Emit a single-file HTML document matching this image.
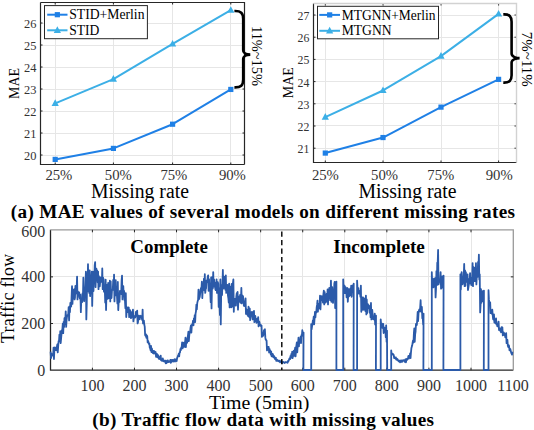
<!DOCTYPE html>
<html><head><meta charset="utf-8"><style>
html,body{margin:0;padding:0;background:#fff;}
body{width:534px;height:430px;overflow:hidden;}
svg{display:block;font-family:"Liberation Serif", serif;}
</style></head><body>
<svg width="534" height="430" viewBox="0 0 534 430" fill="#000">
<path d="M55.5,2.5V164.5M113.5,2.5V164.5M172.5,2.5V164.5M230.5,2.5V164.5M40.5,155.5H244.5M40.5,133.5H244.5M40.5,111.5H244.5M40.5,89.5H244.5M40.5,67.5H244.5M40.5,45.5H244.5M40.5,23.5H244.5" stroke="#e6e6e6" stroke-width="1" fill="none"/>
<path d="M55.2,164.5v-2M55.2,2.5v2M113.4,164.5v-2M113.4,2.5v2M172.6,164.5v-2M172.6,2.5v2M230.8,164.5v-2M230.8,2.5v2M40.5,155.00h2M244.5,155.00h-2M40.5,133.00h2M244.5,133.00h-2M40.5,111.00h2M244.5,111.00h-2M40.5,89.00h2M244.5,89.00h-2M40.5,67.00h2M244.5,67.00h-2M40.5,45.00h2M244.5,45.00h-2M40.5,23.00h2M244.5,23.00h-2" stroke="#262626" stroke-width="1" fill="none"/>
<path d="M40.5,2.5V164.5H244.5" stroke="#262626" stroke-width="1.2" fill="none"/>
<path d="M40.5,2.5H244.5V164.5" stroke="#262626" stroke-width="1.2" fill="none"/>
<polyline points="55.2,159.40 113.4,148.40 172.6,124.20 230.8,89.44" stroke="#1f80e6" stroke-width="2" fill="none" stroke-linejoin="round"/>
<rect x="52.60" y="156.80" width="5.2" height="5.2" fill="#1f80e6"/>
<rect x="110.80" y="145.80" width="5.2" height="5.2" fill="#1f80e6"/>
<rect x="170.00" y="121.60" width="5.2" height="5.2" fill="#1f80e6"/>
<rect x="228.20" y="86.84" width="5.2" height="5.2" fill="#1f80e6"/>
<polyline points="55.2,103.30 113.4,79.10 172.6,43.90 230.8,10.24" stroke="#3cafe6" stroke-width="2" fill="none" stroke-linejoin="round"/>
<path d="M55.20,99.30L58.80,105.90H51.60Z" fill="#3cafe6"/>
<path d="M113.40,75.10L117.00,81.70H109.80Z" fill="#3cafe6"/>
<path d="M172.60,39.90L176.20,46.50H169.00Z" fill="#3cafe6"/>
<path d="M230.80,6.24L234.40,12.84H227.20Z" fill="#3cafe6"/>
<rect x="44.5" y="5.6" width="102.9" height="33.1" fill="#fff" stroke="#262626" stroke-width="1"/>
<path d="M47.2,14.7H67.5" stroke="#1f80e6" stroke-width="2"/>
<rect x="54.75" y="12.10" width="5.2" height="5.2" fill="#1f80e6"/>
<path d="M47.2,30.3H67.5" stroke="#3cafe6" stroke-width="2"/>
<path d="M57.35,26.30L60.95,32.90H53.75Z" fill="#3cafe6"/>
<text x="69.2" y="19.299999999999997" font-size="13.6" text-anchor="start" font-weight="normal" textLength="75.3" lengthAdjust="spacingAndGlyphs" >STID+Merlin</text>
<text x="69.2" y="34.9" font-size="13.6" text-anchor="start" font-weight="normal" >STID</text>
<text x="36.5" y="160.0" font-size="13.4" text-anchor="end" font-weight="normal" textLength="12.4" lengthAdjust="spacingAndGlyphs" fill="#333">20</text>
<text x="36.5" y="138.0" font-size="13.4" text-anchor="end" font-weight="normal" textLength="12.4" lengthAdjust="spacingAndGlyphs" fill="#333">21</text>
<text x="36.5" y="116.0" font-size="13.4" text-anchor="end" font-weight="normal" textLength="12.4" lengthAdjust="spacingAndGlyphs" fill="#333">22</text>
<text x="36.5" y="94.0" font-size="13.4" text-anchor="end" font-weight="normal" textLength="12.4" lengthAdjust="spacingAndGlyphs" fill="#333">23</text>
<text x="36.5" y="72.0" font-size="13.4" text-anchor="end" font-weight="normal" textLength="12.4" lengthAdjust="spacingAndGlyphs" fill="#333">24</text>
<text x="36.5" y="50.0" font-size="13.4" text-anchor="end" font-weight="normal" textLength="12.4" lengthAdjust="spacingAndGlyphs" fill="#333">25</text>
<text x="36.5" y="28.0" font-size="13.4" text-anchor="end" font-weight="normal" textLength="12.4" lengthAdjust="spacingAndGlyphs" fill="#333">26</text>
<text x="58.9" y="180" font-size="15" text-anchor="middle" font-weight="normal" textLength="27" lengthAdjust="spacingAndGlyphs" fill="#333">25%</text>
<text x="118.3" y="180" font-size="15" text-anchor="middle" font-weight="normal" textLength="27" lengthAdjust="spacingAndGlyphs" fill="#333">50%</text>
<text x="173.9" y="180" font-size="15" text-anchor="middle" font-weight="normal" textLength="27" lengthAdjust="spacingAndGlyphs" fill="#333">75%</text>
<text x="232.4" y="180" font-size="15" text-anchor="middle" font-weight="normal" textLength="27" lengthAdjust="spacingAndGlyphs" fill="#333">90%</text>
<text x="90.9" y="197.8" font-size="20" text-anchor="start" font-weight="normal" textLength="98.0" lengthAdjust="spacingAndGlyphs" >Missing rate</text>
<text transform="translate(18.6,83.5) rotate(-90)" x="0" y="0" font-size="14" text-anchor="middle">MAE</text>
<path d="M325.5,3.5V162.5M383.5,3.5V162.5M441.5,3.5V162.5M498.5,3.5V162.5M313.5,148.5H516.5M313.5,125.5H516.5M313.5,103.5H516.5M313.5,81.5H516.5M313.5,59.5H516.5M313.5,37.5H516.5M313.5,15.5H516.5" stroke="#e6e6e6" stroke-width="1" fill="none"/>
<path d="M325.3,162.5v-2M325.3,3.5v2M383.0,162.5v-2M383.0,3.5v2M441.0,162.5v-2M441.0,3.5v2M498.6,162.5v-2M498.6,3.5v2M313.5,148.20h2M516.5,148.20h-2M313.5,126.00h2M516.5,126.00h-2M313.5,103.80h2M516.5,103.80h-2M313.5,81.60h2M516.5,81.60h-2M313.5,59.40h2M516.5,59.40h-2M313.5,37.20h2M516.5,37.20h-2M313.5,15.00h2M516.5,15.00h-2" stroke="#262626" stroke-width="1" fill="none"/>
<path d="M313.5,3.5V162.5H516.5" stroke="#262626" stroke-width="1.2" fill="none"/>
<path d="M313.5,3.5H516.5V162.5" stroke="#d2d2d2" stroke-width="1.4" fill="none"/>
<polyline points="325.3,153.08 383.0,137.54 441.0,107.13 498.6,79.38" stroke="#1f80e6" stroke-width="2" fill="none" stroke-linejoin="round"/>
<rect x="322.70" y="150.48" width="5.2" height="5.2" fill="#1f80e6"/>
<rect x="380.40" y="134.94" width="5.2" height="5.2" fill="#1f80e6"/>
<rect x="438.40" y="104.53" width="5.2" height="5.2" fill="#1f80e6"/>
<rect x="496.00" y="76.78" width="5.2" height="5.2" fill="#1f80e6"/>
<polyline points="325.3,117.12 383.0,90.48 441.0,56.07 498.6,13.89" stroke="#3cafe6" stroke-width="2" fill="none" stroke-linejoin="round"/>
<path d="M325.30,113.12L328.90,119.72H321.70Z" fill="#3cafe6"/>
<path d="M383.00,86.48L386.60,93.08H379.40Z" fill="#3cafe6"/>
<path d="M441.00,52.07L444.60,58.67H437.40Z" fill="#3cafe6"/>
<path d="M498.60,9.89L502.20,16.49H495.00Z" fill="#3cafe6"/>
<rect x="317.5" y="6.3" width="121.0" height="32.5" fill="#fff" stroke="#262626" stroke-width="1"/>
<path d="M319.3,14.9H340" stroke="#1f80e6" stroke-width="2"/>
<rect x="327.05" y="12.30" width="5.2" height="5.2" fill="#1f80e6"/>
<path d="M319.3,30.8H340" stroke="#3cafe6" stroke-width="2"/>
<path d="M329.65,26.80L333.25,33.40H326.05Z" fill="#3cafe6"/>
<text x="341.7" y="19.5" font-size="13.6" text-anchor="start" font-weight="normal" textLength="93.80000000000001" lengthAdjust="spacingAndGlyphs" >MTGNN+Merlin</text>
<text x="341.7" y="35.4" font-size="13.6" text-anchor="start" font-weight="normal" >MTGNN</text>
<text x="309.3" y="153.1" font-size="13.2" text-anchor="end" font-weight="normal" textLength="11.8" lengthAdjust="spacingAndGlyphs" fill="#333">21</text>
<text x="309.3" y="130.89999999999998" font-size="13.2" text-anchor="end" font-weight="normal" textLength="11.8" lengthAdjust="spacingAndGlyphs" fill="#333">22</text>
<text x="309.3" y="108.69999999999999" font-size="13.2" text-anchor="end" font-weight="normal" textLength="11.8" lengthAdjust="spacingAndGlyphs" fill="#333">23</text>
<text x="309.3" y="86.5" font-size="13.2" text-anchor="end" font-weight="normal" textLength="11.8" lengthAdjust="spacingAndGlyphs" fill="#333">24</text>
<text x="309.3" y="64.3" font-size="13.2" text-anchor="end" font-weight="normal" textLength="11.8" lengthAdjust="spacingAndGlyphs" fill="#333">25</text>
<text x="309.3" y="42.09999999999999" font-size="13.2" text-anchor="end" font-weight="normal" textLength="11.8" lengthAdjust="spacingAndGlyphs" fill="#333">26</text>
<text x="309.3" y="19.9" font-size="13.2" text-anchor="end" font-weight="normal" textLength="11.8" lengthAdjust="spacingAndGlyphs" fill="#333">27</text>
<text x="325.4" y="180" font-size="15" text-anchor="middle" font-weight="normal" textLength="27" lengthAdjust="spacingAndGlyphs" fill="#333">25%</text>
<text x="384.6" y="180" font-size="15" text-anchor="middle" font-weight="normal" textLength="27" lengthAdjust="spacingAndGlyphs" fill="#333">50%</text>
<text x="440.8" y="180" font-size="15" text-anchor="middle" font-weight="normal" textLength="27" lengthAdjust="spacingAndGlyphs" fill="#333">75%</text>
<text x="499.2" y="180" font-size="15" text-anchor="middle" font-weight="normal" textLength="27" lengthAdjust="spacingAndGlyphs" fill="#333">90%</text>
<text x="358.4" y="197.8" font-size="20" text-anchor="start" font-weight="normal" textLength="98.2" lengthAdjust="spacingAndGlyphs" >Missing rate</text>
<text transform="translate(293,82.7) rotate(-90)" x="0" y="0" font-size="14" text-anchor="middle">MAE</text>
<path d="M234.4,11 C241.0,10.7 243.2,13.199999999999996 243.2,18.919999999999984 V50.1 C243.2,53.4 247.3,54.6 250.3,54.6 C247.3,54.6 243.2,55.800000000000004 243.2,59.1 V79.48000000000002 C243.2,85.20000000000002 241.0,87.7 234.4,87.4" stroke="#000" stroke-width="2.6" fill="none"/>
<path d="M503.3,14.4 C509.52500000000003,14.1 511.6,16.475 511.6,21.87000000000001 V53.6 C511.6,56.9 516.6,58.1 519.6,58.1 C516.6,58.1 511.6,59.300000000000004 511.6,62.6 V75.12999999999998 C511.6,80.52499999999999 509.52500000000003,82.89999999999999 503.3,82.6" stroke="#000" stroke-width="2.6" fill="none"/>
<text transform="translate(251.6,56) rotate(90)" x="0" y="0" font-size="14" text-anchor="middle" textLength="60" lengthAdjust="spacingAndGlyphs">11%~15%</text>
<text transform="translate(522.3,59.3) rotate(90)" x="0" y="0" font-size="14" text-anchor="middle" textLength="55" lengthAdjust="spacingAndGlyphs">7%~11%</text>
<text x="10.8" y="218.2" font-size="19.2" text-anchor="start" font-weight="bold" textLength="504.2" lengthAdjust="spacing" >(a) MAE values of several models on different missing rates</text>
<path d="M92.5,229.8V370.2M134.5,229.8V370.2M176.5,229.8V370.2M218.5,229.8V370.2M260.5,229.8V370.2M302.5,229.8V370.2M344.5,229.8V370.2M386.5,229.8V370.2M428.5,229.8V370.2M471.5,229.8V370.2M50.5,323.5H513.3M50.5,276.5H513.3" stroke="#e6e6e6" stroke-width="1" fill="none"/>
<path d="M50.5,229.8V370.2H513.3" stroke="#262626" stroke-width="1.3" fill="none"/>
<path d="M50.5,229.8H513.3V370.2" stroke="#9a9a9a" stroke-width="1.3" fill="none"/>
<path d="M92.40,370.2v-2.5M92.40,229.8v2.5M134.46,370.2v-2.5M134.46,229.8v2.5M176.53,370.2v-2.5M176.53,229.8v2.5M218.60,370.2v-2.5M218.60,229.8v2.5M260.67,370.2v-2.5M260.67,229.8v2.5M302.73,370.2v-2.5M302.73,229.8v2.5M344.80,370.2v-2.5M344.80,229.8v2.5M386.87,370.2v-2.5M386.87,229.8v2.5M428.93,370.2v-2.5M428.93,229.8v2.5M471.00,370.2v-2.5M471.00,229.8v2.5M50.5,323.53h2.5M513.3,323.53h-2.5M50.5,276.87h2.5M513.3,276.87h-2.5" stroke="#262626" stroke-width="1" fill="none"/>
<polyline points="50.60,351.60 51.02,358.10 51.44,356.21 51.86,353.99 52.28,354.13 52.70,354.06 53.12,355.46 53.54,347.60 53.96,359.00 54.38,349.65 54.80,347.44 55.22,347.54 55.64,350.05 56.06,348.88 56.48,350.23 56.90,346.68 57.32,344.30 57.74,352.40 58.16,346.60 58.58,341.25 59.00,341.41 59.42,334.60 59.84,341.40 60.26,331.20 60.68,343.10 61.10,338.45 61.52,334.21 61.94,330.13 62.37,329.42 62.79,323.60 63.21,333.20 63.63,321.90 64.05,327.12 64.47,318.09 64.89,324.37 65.31,319.90 65.73,311.30 66.15,326.90 66.57,320.06 66.99,316.74 67.41,315.13 67.83,315.08 68.25,313.95 68.67,307.10 69.09,320.40 69.51,306.28 69.93,312.33 70.35,302.87 70.77,304.69 71.19,306.54 71.61,296.05 72.03,286.20 72.45,303.90 72.87,294.73 73.29,296.67 73.71,289.82 74.13,289.30 74.55,299.40 74.97,297.79 75.39,285.99 75.81,293.70 76.23,289.16 76.65,288.58 77.07,276.60 77.49,299.40 77.91,291.43 78.33,294.35 78.75,295.25 79.17,292.38 79.59,297.49 80.01,298.71 80.43,294.60 80.85,312.20 81.27,299.89 81.69,300.00 82.11,302.18 82.53,293.35 82.95,295.85 83.37,277.60 83.79,299.40 84.21,301.23 84.63,287.95 85.05,295.55 85.48,284.45 85.90,271.60 86.32,319.40 86.74,304.01 87.16,273.08 87.58,285.33 88.00,264.20 88.42,291.40 88.84,276.77 89.26,293.07 89.68,270.34 90.10,296.11 90.52,287.74 90.94,283.26 91.36,278.36 91.78,271.60 92.20,305.90 92.62,286.63 93.04,271.61 93.46,291.08 93.88,277.57 94.30,281.63 94.72,265.21 95.14,262.10 95.56,287.10 95.98,275.15 96.40,268.77 96.82,279.19 97.24,270.40 97.66,282.23 98.08,271.60 98.50,289.20 98.92,276.06 99.34,283.37 99.76,286.40 100.18,281.69 100.60,277.50 101.02,281.50 101.44,278.05 101.86,282.07 102.28,268.40 102.70,289.20 103.12,277.63 103.54,279.29 103.96,291.70 104.38,289.11 104.80,289.17 105.22,302.55 105.64,279.60 106.06,310.10 106.48,292.67 106.90,296.44 107.32,284.55 107.74,298.84 108.16,282.97 108.59,298.11 109.01,286.76 109.43,295.37 109.85,280.60 110.27,301.40 110.69,281.40 111.11,295.42 111.53,298.05 111.95,290.64 112.37,289.85 112.79,289.58 113.21,279.90 113.63,289.93 114.05,274.60 114.47,301.40 114.89,287.41 115.31,295.38 115.73,280.07 116.15,294.30 116.57,287.18 116.99,296.38 117.41,303.46 117.83,282.00 118.25,310.10 118.67,301.96 119.09,293.09 119.51,301.87 119.93,290.96 120.35,291.70 120.77,293.31 121.19,294.01 121.61,280.21 122.03,275.60 122.45,299.40 122.87,289.98 123.29,286.03 123.71,295.86 124.13,290.81 124.55,300.21 124.97,300.80 125.39,308.21 125.81,293.20 126.23,317.10 126.65,311.72 127.07,307.52 127.49,309.65 127.91,312.10 128.33,307.50 128.75,307.60 129.17,317.10 129.59,311.89 130.01,310.09 130.43,314.41 130.85,318.11 131.27,317.98 131.70,312.19 132.12,316.73 132.54,311.78 132.96,309.60 133.38,321.40 133.80,317.85 134.22,316.21 134.64,316.45 135.06,317.57 135.48,316.83 135.90,311.91 136.32,315.18 136.74,315.25 137.16,310.60 137.58,323.40 138.00,322.28 138.42,315.53 138.84,318.57 139.26,316.80 139.68,319.44 140.10,315.59 140.52,316.72 140.94,316.13 141.36,316.37 141.78,318.33 142.20,319.95 142.62,309.60 143.04,323.40 143.46,320.57 143.88,320.67 144.30,324.76 144.72,326.60 145.14,335.10 145.56,335.86 145.98,334.43 146.40,337.79 146.82,335.48 147.24,336.30 147.66,342.40 148.08,340.85 148.50,342.23 148.92,343.97 149.34,343.39 149.76,347.56 150.18,348.33 150.60,350.24 151.02,346.00 151.44,352.00 151.86,348.28 152.28,350.75 152.70,352.78 153.12,353.25 153.54,350.87 153.96,353.56 154.38,351.26 154.81,352.04 155.23,353.60 155.65,352.00 156.07,356.90 156.49,355.15 156.91,353.93 157.33,357.03 157.75,354.87 158.17,355.28 158.59,358.38 159.01,358.85 159.43,357.11 159.85,359.13 160.27,356.84 160.69,355.60 161.11,360.40 161.53,359.04 161.95,360.84 162.37,360.89 162.79,358.36 163.21,360.54 163.63,361.26 164.05,360.88 164.47,360.61 164.89,361.75 165.31,360.60 165.73,363.40 166.15,362.92 166.57,362.98 166.99,360.70 167.41,362.20 167.83,360.46 168.25,362.09 168.67,361.93 169.09,361.67 169.51,361.13 169.93,361.75 170.35,359.90 170.77,362.90 171.19,360.12 171.61,361.86 172.03,359.92 172.45,360.11 172.87,360.02 173.29,361.57 173.71,360.97 174.13,359.61 174.55,359.30 174.97,361.70 175.39,359.48 175.81,360.83 176.23,359.30 176.65,361.10 177.07,358.33 177.49,357.13 177.92,355.75 178.34,355.28 178.76,353.60 179.18,356.40 179.60,352.25 180.02,352.45 180.44,348.99 180.86,350.08 181.28,347.31 181.70,347.15 182.12,342.40 182.54,348.40 182.96,347.23 183.38,343.48 183.80,342.58 184.22,346.85 184.64,346.33 185.06,342.77 185.48,337.60 185.90,347.20 186.32,338.83 186.74,342.98 187.16,342.77 187.58,337.54 188.00,335.04 188.42,331.60 188.84,341.20 189.26,335.47 189.68,332.34 190.10,331.98 190.52,327.83 190.94,325.40 191.36,332.70 191.78,326.28 192.20,324.22 192.62,323.57 193.04,320.60 193.46,325.40 193.88,318.47 194.30,322.06 194.72,315.10 195.14,322.20 195.56,313.52 195.98,311.32 196.40,304.60 196.82,309.40 197.24,303.17 197.66,301.09 198.08,299.94 198.50,289.60 198.92,299.20 199.34,297.96 199.76,296.96 200.18,293.37 200.60,289.80 201.03,287.83 201.45,288.86 201.87,281.60 202.29,298.10 202.71,289.56 203.13,288.21 203.55,286.75 203.97,278.56 204.39,290.30 204.81,274.20 205.23,292.90 205.65,289.12 206.07,288.30 206.49,280.58 206.91,282.03 207.33,281.23 207.75,276.69 208.17,275.30 208.59,290.80 209.01,279.03 209.43,287.92 209.85,284.87 210.27,292.21 210.69,302.20 211.11,277.40 211.53,308.40 211.95,287.69 212.37,276.82 212.79,288.52 213.21,272.10 213.63,286.60 214.05,279.41 214.47,283.82 214.89,282.82 215.31,289.16 215.73,290.18 216.15,286.95 216.57,279.40 216.99,292.90 217.41,286.35 217.83,282.08 218.25,283.99 218.67,306.88 219.09,288.07 219.51,304.39 219.93,315.02 220.35,279.40 220.77,324.40 221.19,293.43 221.61,284.98 222.03,295.01 222.45,283.96 222.87,270.00 223.29,288.70 223.71,282.73 224.14,276.75 224.56,287.93 224.98,287.89 225.40,289.82 225.82,275.30 226.24,292.90 226.66,289.18 227.08,289.96 227.50,285.01 227.92,295.29 228.34,297.99 228.76,302.65 229.18,283.60 229.60,307.40 230.02,286.28 230.44,295.99 230.86,296.94 231.28,307.32 231.70,283.97 232.12,306.69 232.54,292.15 232.96,282.77 233.38,279.40 233.80,311.80 234.22,298.61 234.64,300.36 235.06,305.10 235.48,298.57 235.90,305.59 236.32,296.65 236.74,293.26 237.16,300.05 237.58,292.00 238.00,309.70 238.42,298.35 238.84,301.96 239.26,296.28 239.68,300.12 240.10,294.91 240.52,302.77 240.94,298.77 241.36,287.80 241.78,303.40 242.20,300.17 242.62,295.71 243.04,296.40 243.46,300.41 243.88,305.81 244.30,302.02 244.72,306.12 245.14,303.74 245.56,298.30 245.98,313.90 246.40,312.58 246.82,309.53 247.25,314.78 247.67,312.77 248.09,316.01 248.51,306.67 248.93,308.07 249.35,317.28 249.77,308.60 250.19,320.10 250.61,315.78 251.03,312.42 251.45,314.56 251.87,311.87 252.29,315.80 252.71,319.48 253.13,312.00 253.55,313.37 253.97,310.90 254.39,322.20 254.81,319.41 255.23,315.90 255.65,318.57 256.07,321.14 256.49,322.81 256.91,321.97 257.33,318.59 257.75,320.55 258.17,317.10 258.59,326.40 259.01,321.29 259.43,322.09 259.85,324.26 260.27,325.53 260.69,324.70 261.11,326.32 261.53,325.60 261.95,336.90 262.37,334.01 262.79,335.99 263.21,335.57 263.63,332.33 264.05,329.99 264.47,329.86 264.89,329.30 265.31,337.40 265.73,339.76 266.15,339.81 266.57,340.60 266.99,350.40 267.41,349.40 267.83,346.93 268.25,348.71 268.67,346.99 269.09,352.52 269.51,348.91 269.93,351.63 270.36,350.53 270.78,354.72 271.20,351.60 271.62,356.40 272.04,355.59 272.46,353.80 272.88,354.18 273.30,357.30 273.72,355.64 274.14,356.60 274.56,357.66 274.98,359.03 275.40,357.80 275.82,357.60 276.24,360.90 276.66,359.60 277.08,359.68 277.50,360.33 277.92,361.00 278.34,361.25 278.76,360.54 279.18,360.64 279.60,361.04 280.02,362.33 280.44,361.16 280.86,361.82 281.28,361.46 281.70,361.10 282.12,363.40 282.54,362.50 282.96,362.26 283.38,362.00 283.80,362.28 284.22,362.35 284.64,362.94 285.06,362.48 285.48,362.12 285.90,362.02 286.32,362.29 286.74,362.45 287.16,362.10 287.58,362.80 288.00,360.82 288.42,361.29 288.84,360.20 289.26,358.97 289.68,358.08 290.10,359.15 290.52,355.82 290.94,357.78 291.36,353.96 291.78,355.90 292.20,351.60 292.62,358.10 293.04,354.67 293.47,355.87 293.89,350.54 294.31,355.75 294.73,351.39 295.15,347.60 295.57,356.40 295.99,351.23 296.41,345.29 296.83,342.40 297.25,352.40 297.67,345.64 298.09,343.35 298.51,337.60 298.93,346.40 299.35,340.02 299.77,340.74 300.19,342.12 300.61,336.60 301.03,343.10 301.45,335.07 301.87,335.98 302.29,330.20 302.71,334.40 303.13,334.48 303.55,332.60 303.40,370.00 311.20,370.00 311.20,324.20 311.62,329.40 312.04,326.31 312.46,323.90 312.88,320.33 313.30,320.50 313.72,316.60 314.14,324.40 314.56,318.51 314.98,311.87 315.40,317.31 315.82,312.17 316.24,312.55 316.66,307.50 317.08,304.93 317.50,300.60 317.92,311.80 318.34,304.86 318.76,308.33 319.18,303.64 319.60,305.86 320.02,295.60 320.44,309.40 320.86,299.80 321.28,299.10 321.70,296.09 322.12,300.27 322.54,298.59 322.97,302.58 323.39,294.24 323.81,290.60 324.23,304.40 324.65,292.00 325.07,296.01 325.49,302.71 325.91,294.76 326.33,298.50 326.75,293.61 327.17,301.70 327.59,289.30 328.01,304.40 328.43,290.56 328.85,295.90 329.27,288.02 329.69,294.37 330.11,300.07 330.53,293.72 330.95,280.60 331.37,301.80 331.79,289.54 332.21,287.25 332.63,295.93 333.05,302.95 333.47,292.46 333.89,294.99 334.31,283.70 334.73,281.80 335.15,308.00 335.57,293.95 335.99,299.85 336.41,281.60 336.40,370.00 343.20,370.00 343.20,279.30 343.62,289.40 344.04,287.17 344.46,285.66 344.88,293.16 345.30,286.83 345.72,288.62 346.14,288.00 346.56,297.32 346.98,289.19 347.40,288.00 347.82,301.80 348.24,294.50 348.66,289.27 349.08,296.47 349.50,290.49 349.92,295.44 350.34,288.51 350.76,292.32 351.18,285.60 351.60,296.80 352.02,290.15 352.44,290.73 352.86,285.26 353.28,289.73 353.70,283.60 353.60,370.00 357.10,370.00 357.10,280.60 357.52,289.40 357.94,290.14 358.36,288.14 358.78,293.62 359.20,291.43 359.62,290.83 360.04,292.78 360.46,296.94 360.88,285.60 361.30,311.80 361.72,297.21 362.14,309.93 362.56,298.45 362.98,297.32 363.40,300.48 363.82,309.83 364.24,298.52 364.66,305.31 365.08,300.82 365.50,311.17 365.92,295.60 366.34,314.40 366.76,299.42 367.18,313.06 367.60,304.11 368.02,304.28 368.44,308.01 368.87,306.47 369.29,306.86 369.71,312.69 370.13,305.40 370.55,317.20 370.97,303.00 371.39,319.40 371.81,311.95 372.23,309.79 372.65,314.51 373.07,319.17 373.49,316.85 373.91,318.37 374.33,319.72 374.75,313.60 375.17,324.40 375.59,324.86 376.01,315.60 375.90,370.00 380.70,370.00 380.70,319.40 381.12,324.40 381.54,325.44 381.96,323.74 382.38,327.92 382.80,327.99 383.22,323.80 383.64,333.00 384.06,332.07 384.48,327.71 384.90,331.28 385.32,329.15 385.74,337.08 386.16,325.30 386.58,341.80 387.00,330.60 387.20,370.00 391.20,370.00 391.20,350.40 391.62,354.40 392.04,354.35 392.46,353.74 392.88,353.90 393.30,354.91 393.72,354.80 394.14,358.10 394.56,357.96 394.98,357.37 395.40,358.50 395.82,357.39 396.24,359.64 396.66,358.53 397.08,359.95 397.50,359.15 397.92,360.46 398.34,360.24 398.76,361.41 399.18,361.20 399.60,360.60 400.02,362.40 400.44,361.39 400.86,360.53 401.28,361.92 401.70,360.37 402.12,361.83 402.54,360.43 402.97,360.38 403.39,360.32 403.81,360.13 404.23,361.20 404.65,361.90 405.07,360.04 405.49,359.30 405.91,362.40 406.33,360.23 406.75,358.82 407.17,359.86 407.59,358.26 408.01,357.80 408.43,355.92 408.85,358.62 409.27,356.40 409.69,357.13 410.11,353.30 410.53,358.10 410.95,352.66 411.37,348.31 411.79,346.82 412.21,345.35 412.63,342.51 413.05,340.31 413.47,342.57 413.89,333.02 414.31,328.30 414.73,341.80 415.15,334.43 415.57,331.54 415.99,323.90 416.41,325.10 416.83,324.87 417.25,319.55 417.67,312.00 418.09,321.20 418.51,313.35 418.93,310.47 419.35,309.41 419.77,311.46 420.19,307.32 420.61,300.20 421.03,311.40 421.45,311.77 421.87,307.02 422.29,318.15 422.71,316.98 423.13,324.47 423.55,313.60 423.40,370.00 431.80,370.00 431.80,272.20 432.22,284.40 432.64,283.34 433.06,279.62 433.48,287.34 433.90,278.72 434.32,285.76 434.74,283.62 435.16,278.10 435.58,297.40 436.00,289.11 436.42,271.18 436.84,285.15 437.26,262.68 437.68,263.84 438.10,250.00 438.52,284.40 438.94,283.04 439.36,280.43 439.78,280.31 440.20,279.91 440.62,272.20 441.04,288.70 441.46,287.22 441.88,286.65 442.30,276.38 442.72,287.51 443.14,286.05 443.57,275.60 443.40,370.00 460.40,370.00 460.40,274.30 460.82,289.40 461.24,279.21 461.66,272.03 462.08,279.53 462.50,284.35 462.92,282.22 463.34,280.95 463.76,275.86 464.18,264.00 464.60,286.20 465.02,270.29 465.44,285.76 465.86,272.06 466.28,277.49 466.70,281.74 467.12,280.46 467.54,274.30 467.96,290.00 468.38,287.55 468.80,284.82 469.22,278.80 469.64,281.10 470.06,273.09 470.48,283.42 470.90,280.99 471.32,285.15 471.74,277.77 472.17,277.50 472.59,263.10 473.01,286.20 473.43,266.84 473.85,280.44 474.27,274.71 474.69,281.12 475.11,267.72 475.53,279.28 475.95,263.10 476.37,284.40 476.79,276.52 477.21,268.73 477.63,276.77 478.05,261.92 478.47,267.83 478.89,254.60 479.31,279.40 479.73,274.30 480.15,312.40 480.57,305.27 480.99,289.23 481.41,302.92 481.83,300.32 482.25,294.37 482.67,291.20 483.09,301.20 483.51,295.71 483.93,290.60 483.80,370.00 488.50,370.00 488.50,290.20 488.92,299.40 489.34,302.55 489.76,303.90 490.18,302.40 490.60,313.10 491.02,312.10 491.44,312.29 491.86,313.87 492.28,309.62 492.70,315.10 493.12,319.21 493.54,319.67 493.96,314.30 494.38,322.40 494.80,320.14 495.22,323.22 495.64,320.36 496.06,318.50 496.48,324.38 496.90,323.69 497.32,326.25 497.74,324.13 498.16,322.93 498.58,321.60 499.00,330.00 499.42,329.88 499.84,328.35 500.27,330.82 500.69,331.38 501.11,332.30 501.53,327.22 501.95,329.04 502.37,327.40 502.79,335.40 503.21,332.23 503.63,332.33 504.05,333.06 504.47,335.26 504.89,334.25 505.31,337.30 505.73,334.18 506.15,333.10 506.57,343.10 506.99,341.67 507.41,339.94 507.83,345.73 508.25,347.04 508.67,345.18 509.09,346.20 509.51,350.40 509.93,349.80 510.35,349.11 510.77,351.02 511.19,352.80 511.61,353.70 512.03,354.69 512.45,351.60" stroke="#2b5aa9" stroke-width="1.8" fill="none" stroke-linejoin="round"/>
<path d="M281.8,231.5V370" stroke="#000" stroke-width="1.4" stroke-dasharray="5.3,3.2" fill="none"/>
<text x="45.3" y="375.59999999999997" font-size="16" text-anchor="end" font-weight="normal" fill="#333">0</text>
<text x="45.3" y="328.9333333333333" font-size="16" text-anchor="end" font-weight="normal" fill="#333">200</text>
<text x="45.3" y="282.26666666666665" font-size="16" text-anchor="end" font-weight="normal" fill="#333">400</text>
<text x="45.3" y="236.6" font-size="16" text-anchor="end" font-weight="normal" fill="#333">600</text>
<text x="92.39699999999999" y="391.2" font-size="16" text-anchor="middle" font-weight="normal" fill="#333">100</text>
<text x="134.464" y="391.2" font-size="16" text-anchor="middle" font-weight="normal" fill="#333">200</text>
<text x="176.531" y="391.2" font-size="16" text-anchor="middle" font-weight="normal" fill="#333">300</text>
<text x="218.598" y="391.2" font-size="16" text-anchor="middle" font-weight="normal" fill="#333">400</text>
<text x="260.665" y="391.2" font-size="16" text-anchor="middle" font-weight="normal" fill="#333">500</text>
<text x="302.73199999999997" y="391.2" font-size="16" text-anchor="middle" font-weight="normal" fill="#333">600</text>
<text x="344.799" y="391.2" font-size="16" text-anchor="middle" font-weight="normal" fill="#333">700</text>
<text x="386.866" y="391.2" font-size="16" text-anchor="middle" font-weight="normal" fill="#333">800</text>
<text x="428.933" y="391.2" font-size="16" text-anchor="middle" font-weight="normal" fill="#333">900</text>
<text x="471.0" y="391.2" font-size="16" text-anchor="middle" font-weight="normal" fill="#333">1000</text>
<text x="513.067" y="391.2" font-size="16" text-anchor="middle" font-weight="normal" fill="#333">1100</text>
<text x="209" y="408.6" font-size="19.5" text-anchor="start" font-weight="normal" textLength="100.4" lengthAdjust="spacingAndGlyphs" >Time (5min)</text>
<text transform="translate(14.0,298.5) rotate(-90)" x="0" y="0" font-size="17.8" text-anchor="middle" textLength="89" lengthAdjust="spacing">Traffic flow</text>
<text x="130.3" y="252.8" font-size="18.8" text-anchor="start" font-weight="bold" textLength="77.7" lengthAdjust="spacingAndGlyphs" >Complete</text>
<text x="333.2" y="253.0" font-size="18.8" text-anchor="start" font-weight="bold" textLength="91.7" lengthAdjust="spacingAndGlyphs" >Incomplete</text>
<text x="92.2" y="425.6" font-size="19.2" text-anchor="start" font-weight="bold" textLength="341.8" lengthAdjust="spacing" >(b) Traffic flow data with missing values</text>
</svg>
</body></html>
